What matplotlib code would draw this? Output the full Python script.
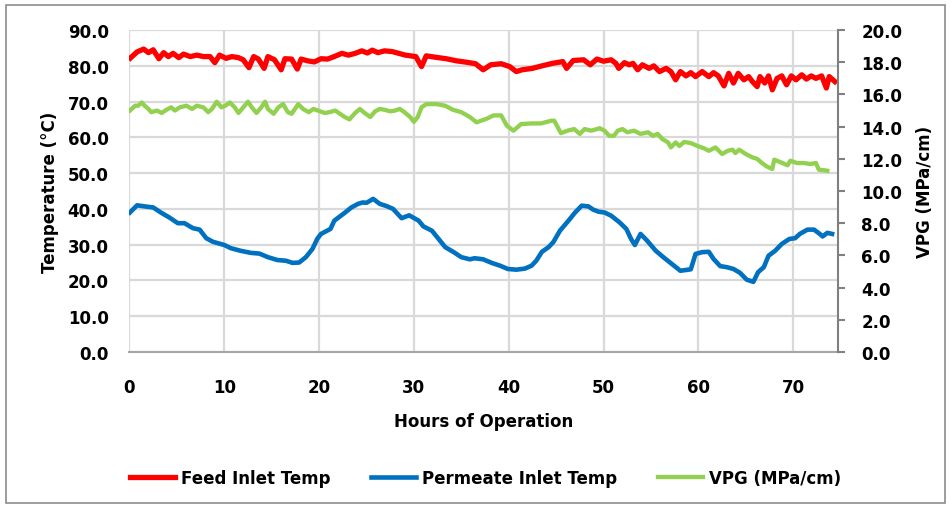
import matplotlib.pyplot as plt
from matplotlib.patches import Rectangle
from matplotlib.ticker import FormatStrFormatter, MultipleLocator

# Feed inlet temperature (left axis, deg C)
feed_t = [0.1, 0.8, 1.5, 2.0, 2.5, 3.1, 3.6, 4.1, 4.6, 5.2, 5.7, 6.4, 7.1, 7.8, 8.5, 9.0, 9.5,
          10.2, 10.8, 11.5, 12.0, 12.6, 13.1, 13.6, 14.2, 14.6, 15.3, 16.0, 16.4, 17.1, 17.7,
          18.1, 18.8, 19.5, 20.2, 20.9, 21.6, 22.4, 23.1, 23.8, 24.5, 25.1, 25.6, 26.2, 26.9,
          27.7, 28.4, 29.1, 30.2, 30.8, 31.3, 32.3, 33.4, 34.5, 35.6, 36.5, 37.3, 38.1, 39.2,
          40.1, 40.8, 41.4, 42.5, 43.5, 44.6, 45.7, 46.1, 46.8, 47.9, 48.6, 49.3, 50.0, 50.8,
          51.3, 51.6, 52.2, 52.7, 53.1, 53.6, 54.1, 54.8, 55.3, 55.9, 56.6, 57.1, 57.6, 58.1,
          58.7, 59.2, 59.7, 60.4, 61.1, 61.6, 62.1, 62.7, 63.2, 63.7, 64.2, 64.8, 65.3, 65.7,
          66.2, 66.5, 67.0, 67.4, 67.8, 68.3, 68.8, 69.3, 69.8, 70.3, 70.9, 71.4, 71.9, 72.4,
          73.0, 73.5, 73.8, 74.4]
feed_v = [82.2, 83.9, 84.7, 83.7, 84.5, 82.0, 83.7, 82.6, 83.5, 82.3, 83.3, 82.6, 83.0, 82.6,
          82.6, 80.9, 83.0, 82.1, 82.6, 82.3, 81.7, 79.5, 82.6, 81.9, 79.3, 82.6, 81.7, 78.9,
          82.0, 81.9, 79.1, 81.9, 81.4, 81.1, 82.0, 81.9, 82.6, 83.5, 83.0, 83.5, 84.2, 83.6,
          84.4, 83.7, 84.2, 84.0, 83.5, 83.0, 82.6, 79.8, 82.8, 82.4, 82.0, 81.4, 81.0, 80.6,
          78.9, 80.3, 80.6, 79.8, 78.4, 78.9, 79.3, 80.0, 80.7, 81.2, 79.3, 81.5, 81.7, 80.3,
          81.9, 81.3, 81.7, 80.7, 79.3, 80.9, 80.3, 80.7, 78.9, 80.3, 79.3, 80.0, 78.4, 79.3,
          78.4, 76.1, 78.4, 77.2, 78.1, 77.0, 78.4, 77.0, 78.1, 77.2, 74.4, 77.9, 75.2, 77.9,
          76.1, 77.0, 75.6, 74.2, 77.0, 75.2, 77.2, 73.3, 76.5, 77.2, 74.7, 77.2, 76.1, 77.5,
          76.3, 77.2, 76.5, 77.2, 73.8, 77.0, 75.6]

# Permeate inlet temperature (left axis, deg C)
perm_t = [0.05, 0.8, 1.6, 2.5, 3.3, 4.2, 5.1, 5.8, 6.7, 7.4, 8.1, 8.8, 10.0, 10.7, 11.7, 12.8,
          13.7, 14.6, 15.6, 16.5, 17.2, 17.9, 18.6, 19.3, 19.8, 20.2, 21.2, 21.6, 22.3, 22.7,
          23.4, 24.1, 24.6, 25.0, 25.7, 26.4, 27.1, 27.8, 28.7, 29.5, 30.5, 31.0, 31.9, 32.6,
          33.3, 34.2, 35.0, 35.9, 36.4, 37.3, 38.2, 39.1, 39.9, 40.8, 41.7, 42.4, 42.9, 43.5,
          44.2, 44.7, 45.4, 46.3, 47.0, 47.7, 48.4, 48.9, 49.5, 50.1, 50.8, 51.7, 52.4, 52.9,
          53.3, 53.9, 54.6, 55.5, 56.3, 57.2, 58.1, 59.2, 59.7, 60.4, 61.1, 61.6, 62.3, 63.0,
          63.7, 64.4, 65.1, 65.8, 66.3, 66.9, 67.4, 68.1, 68.8, 69.6, 70.2, 70.7, 71.5, 72.2,
          72.8, 73.1, 73.6, 74.1]
perm_v = [39.0, 41.0, 40.7, 40.4, 39.0, 37.6, 36.0, 36.0, 34.6, 34.2, 31.8, 30.8, 29.9, 29.0,
          28.3, 27.7, 27.5, 26.5, 25.7, 25.5, 24.9, 25.0, 26.5, 28.8, 31.6, 33.0, 34.4, 36.7,
          38.1, 38.9, 40.4, 41.4, 41.8, 41.7, 42.8, 41.4, 40.8, 40.0, 37.4, 38.2, 36.7, 35.1,
          33.9, 31.6, 29.3, 27.9, 26.5, 25.9, 26.2, 25.9, 24.9, 24.1, 23.2, 23.0, 23.3, 24.1,
          25.5, 28.0, 29.3, 30.7, 33.9, 36.7, 39.0, 40.9, 40.7, 39.8, 39.2, 39.0, 38.1, 36.2,
          34.4, 31.6, 29.9, 33.0, 31.1, 28.3, 26.5, 24.6, 22.7, 23.1, 27.4, 27.9, 28.0, 26.0,
          24.0, 23.7, 23.2, 22.1, 20.2, 19.6, 22.3, 23.7, 26.9, 28.3, 30.2, 31.6, 31.8, 33.0,
          34.2, 34.2, 33.0, 32.3, 33.3, 33.0]

# Vapour pressure gradient (right axis, MPa/cm)
vpg_t = [0.05, 0.6, 0.9, 1.3, 1.6, 2.0, 2.3, 2.9, 3.4, 3.9, 4.4, 4.8, 5.3, 6.0, 6.6, 7.1, 7.8,
         8.3, 8.7, 9.2, 9.7, 10.1, 10.6, 11.1, 11.5, 12.0, 12.5, 12.9, 13.4, 13.9, 14.3, 14.6,
         15.2, 15.7, 16.2, 16.7, 17.1, 17.8, 18.3, 18.9, 19.4, 20.1, 20.6, 21.1, 21.7, 22.2,
         22.7, 23.2, 23.8, 24.3, 24.8, 25.4, 25.9, 26.4, 26.9, 27.5, 28.0, 28.5, 29.0, 29.6,
         30.0, 30.4, 30.8, 31.3, 32.4, 33.3, 34.1, 35.0, 35.9, 36.6, 37.7, 38.4, 39.2, 39.8,
         40.5, 41.3, 42.4, 43.4, 44.5, 44.8, 45.5, 46.2, 46.9, 47.5, 48.0, 48.7, 49.6, 50.1,
         50.6, 51.1, 51.5, 52.0, 52.5, 53.2, 53.9, 54.7, 55.2, 55.7, 56.2, 56.8, 57.1, 57.6,
         58.0, 58.5, 59.2, 59.9, 60.6, 61.1, 61.8, 62.5, 63.1, 63.6, 63.9, 64.3, 65.0, 65.7,
         66.2, 66.7, 67.2, 67.8, 68.0, 68.7, 69.4, 69.7, 70.4, 71.1, 71.8, 72.4, 72.7, 73.6]
vpg_v = [15.0, 15.3, 15.3, 15.5, 15.3, 15.1, 14.9, 15.0, 14.85, 15.05, 15.2, 15.0, 15.2, 15.3,
         15.1, 15.3, 15.2, 14.9, 15.1, 15.55, 15.2, 15.3, 15.5, 15.2, 14.85, 15.2, 15.55, 15.2,
         14.85, 15.2, 15.55, 15.1, 14.8, 15.2, 15.4, 14.9, 14.8, 15.4, 15.1, 14.9, 15.1, 14.95,
         14.85, 14.9, 15.0, 14.8, 14.6, 14.45, 14.85, 15.1, 14.85, 14.6, 14.95, 15.1, 15.05,
         14.95, 15.0, 15.1, 14.9, 14.6, 14.3, 14.6, 15.2, 15.4, 15.4, 15.3, 15.05, 14.9, 14.6,
         14.27, 14.5, 14.7, 14.7, 14.06, 13.75, 14.16, 14.2, 14.2, 14.37, 14.37, 13.6, 13.75,
         13.85, 13.55, 13.85, 13.75, 13.9, 13.75, 13.43, 13.43, 13.75, 13.85, 13.65, 13.75,
         13.55, 13.65, 13.43, 13.55, 13.23, 13.02, 12.71, 13.02, 12.8, 13.05, 12.98, 12.8,
         12.65, 12.5, 12.71, 12.3, 12.5, 12.57, 12.36, 12.57, 12.3, 12.09, 12.0, 11.74, 11.53,
         11.37, 11.95, 11.78, 11.6, 11.88, 11.74, 11.74, 11.68, 11.74, 11.33, 11.26]

plt.rcParams['font.family'] = ['DejaVu Sans']
plt.rcParams['font.weight'] = 'bold'

fig = plt.figure(figsize=(9.52, 5.10), dpi=100)
ax = fig.add_axes([0.136, 0.308, 0.744, 0.631])
ax2 = ax.twinx()

l1, = ax.plot(feed_t, feed_v, color='#ff0000', lw=3.8, label='Feed Inlet Temp')
l2, = ax.plot(perm_t, perm_v, color='#0070c0', lw=3.3, label='Permeate Inlet Temp')
l3, = ax2.plot(vpg_t, vpg_v, color='#92d050', lw=3.1, label='VPG (MPa/cm)')

ax.set_xlim(0, 74.7)
ax.set_ylim(0, 90)
ax2.set_ylim(0, 20)
ax.xaxis.set_major_locator(MultipleLocator(10))
ax.yaxis.set_major_locator(MultipleLocator(10))
ax2.yaxis.set_major_locator(MultipleLocator(2))
ax.yaxis.set_major_formatter(FormatStrFormatter('%.1f'))
ax2.yaxis.set_major_formatter(FormatStrFormatter('%.1f'))

ax.grid(True, color='#d9d9d9', lw=1.6)
ax.set_axisbelow(True)
for a in (ax, ax2):
    a.spines['top'].set_visible(False)
    a.spines['left'].set_visible(False)
ax.spines['right'].set_visible(False)
ax2.spines['bottom'].set_visible(False)
ax.spines['bottom'].set_color('#a6a6a6')
ax.spines['bottom'].set_linewidth(1.5)
ax2.spines['right'].set_color('#808080')
ax2.spines['right'].set_linewidth(1.5)

ax.tick_params(axis='y', length=0, pad=15, labelsize=12)
ax.tick_params(axis='x', length=0, pad=19, labelsize=12)
ax2.tick_params(axis='y', length=5, width=1.5, color='#808080', pad=12, labelsize=12)

ax.set_xlabel('Hours of Operation', fontsize=12, fontweight='bold', labelpad=11)
ax.set_ylabel('Temperature (°C)', fontsize=12, fontweight='bold', labelpad=6)
ax2.set_ylabel('VPG (MPa/cm)', fontsize=12, fontweight='bold', labelpad=10)

fig.legend(handles=[l1, l2, l3], loc='center', bbox_to_anchor=(0.510, 0.061), ncol=3,
           frameon=False, prop={'size': 12, 'weight': 'bold'}, handlelength=2.7,
           handletextpad=0.4, columnspacing=2.4)

fig.patches.append(Rectangle((6 / 952, 6 / 510), 939 / 952, 498 / 510, transform=fig.transFigure,
                             fill=False, edgecolor='#8c8c8c', lw=1.2))

fig.savefig('out.png', dpi=100)
